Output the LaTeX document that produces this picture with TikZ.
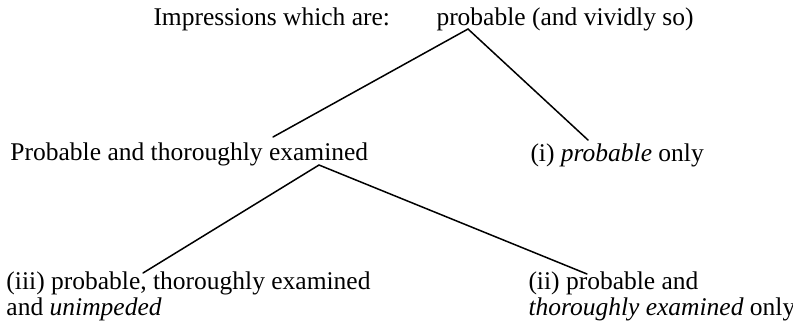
\documentclass[tikz,border=0pt]{standalone}
\usepackage{fontspec}
\setmainfont{Liberation Serif}
\tikzset{
  lbl/.style={anchor=base west, inner sep=0pt, align=left,
              font=\fontsize{10.2}{8.8}\selectfont},
  branch/.style={line width=0.6pt, line cap=round},
}
\begin{document}
\begin{tikzpicture}[x=0.4pt, y=-0.4pt]
  \useasboundingbox (0,0) rectangle (793,329);
  % texts
  \node[lbl] (impr) at (153,25) {Impressions which are:};
  \node[lbl] (vivid) at (436,25) {probable (and vividly so)};
  \node[lbl] (exam) at (10,160) {Probable and thoroughly examined};
  \node[lbl] (only) at (530,161) {(i) \textit{probable} only};
  \node[lbl] (unimp) at (6,315) {(iii) probable, thoroughly examined\\and \textit{unimpeded}};
  \node[lbl] (thor) at (528,315) {(ii) probable and\\\textit{thoroughly examined} only};
  % branch points
  \coordinate (apexA) at (468,29);
  \coordinate (endAl) at (273,137);
  \coordinate (endAr) at (588,140);
  \coordinate (apexB) at (319,165);
  \coordinate (endBl) at (143,273);
  \coordinate (endBr) at (587,274);
  \draw[branch] (endAl) -- (apexA) -- (endAr);
  \draw[branch] (endBl) -- (apexB) -- (endBr);
\end{tikzpicture}
\end{document}
